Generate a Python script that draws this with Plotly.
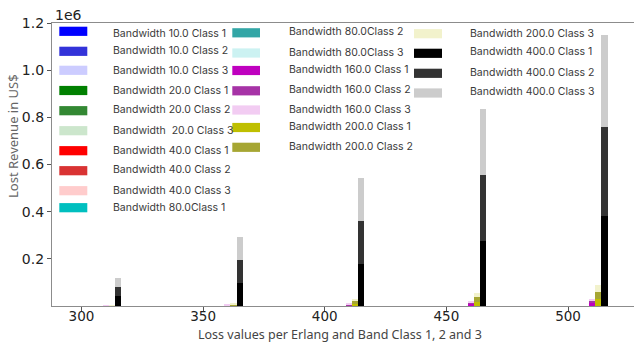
import plotly.graph_objects as go

# Erlang load points on the x axis and bandwidth groups
erlang = [300, 350, 400, 450, 500]
bandwidths = [10.0, 20.0, 40.0, 80.0, 160.0, 200.0, 400.0]

# Lost revenue (US$) per bandwidth and class, one value per Erlang point
loss_10_c1 = [0, 0, 0, 0, 0]
loss_10_c2 = [0, 0, 0, 0, 0]
loss_10_c3 = [0, 0, 0, 0, 0]
loss_20_c1 = [0, 0, 0, 0, 0]
loss_20_c2 = [0, 0, 0, 0, 0]
loss_20_c3 = [0, 0, 0, 0, 0]
loss_40_c1 = [0, 0, 0, 0, 0]
loss_40_c2 = [0, 0, 0, 0, 0]
loss_40_c3 = [0, 0, 0, 0, 0]
loss_80_c1 = [0, 0, 0, 0, 0]
loss_80_c2 = [0, 0, 0, 0, 0]
loss_80_c3 = [0, 0, 0, 0, 0]
loss_160_c1 = [500, 2000, 4000, 9000, 13000]
loss_160_c2 = [500, 1500, 3500, 5000, 11000]
loss_160_c3 = [500, 1500, 3000, 4000, 6000]
loss_200_c1 = [1100, 3000, 10000, 19000, 31000]
loss_200_c2 = [1100, 3000, 10000, 18000, 28000]
loss_200_c3 = [1200, 3000, 10000, 19000, 30000]
loss_400_c1 = [41000, 99000, 180000, 277000, 380000]
loss_400_c2 = [40000, 96000, 182000, 279000, 378000]
loss_400_c3 = [38000, 97000, 181000, 279000, 391000]

series = [
    (10.0, 1, loss_10_c1), (10.0, 2, loss_10_c2), (10.0, 3, loss_10_c3),
    (20.0, 1, loss_20_c1), (20.0, 2, loss_20_c2), (20.0, 3, loss_20_c3),
    (40.0, 1, loss_40_c1), (40.0, 2, loss_40_c2), (40.0, 3, loss_40_c3),
    (80.0, 1, loss_80_c1), (80.0, 2, loss_80_c2), (80.0, 3, loss_80_c3),
    (160.0, 1, loss_160_c1), (160.0, 2, loss_160_c2), (160.0, 3, loss_160_c3),
    (200.0, 1, loss_200_c1), (200.0, 2, loss_200_c2), (200.0, 3, loss_200_c3),
    (400.0, 1, loss_400_c1), (400.0, 2, loss_400_c2), (400.0, 3, loss_400_c3),
]

# Axis ticks
x_tick_vals = [300, 350, 400, 450, 500]
x_tick_text = ["300", "350", "400", "450", "500"]
y_tick_vals = [200000, 400000, 600000, 800000, 1000000, 1200000]
y_tick_text = ["0.2", "0.4", "0.6", "0.8", "1.0", "1.2"]

# Styling
colors = {
    (10.0, 1): "#0000ff", (10.0, 2): "#3333d9", (10.0, 3): "#ccccff",
    (20.0, 1): "#008000", (20.0, 2): "#338833", (20.0, 3): "#cce6cc",
    (40.0, 1): "#ff0000", (40.0, 2): "#d93333", (40.0, 3): "#ffcccc",
    (80.0, 1): "#00bfbf", (80.0, 2): "#33a6a6", (80.0, 3): "#ccf2f2",
    (160.0, 1): "#bf00bf", (160.0, 2): "#a633a6", (160.0, 3): "#f2ccf2",
    (200.0, 1): "#bfbf00", (200.0, 2): "#a6a633", (200.0, 3): "#f2f2cc",
    (400.0, 1): "#000000", (400.0, 2): "#333333", (400.0, 3): "#cccccc",
}
BAR_W = 2.5
W, H = 634, 342
ML, MR, MT, MB = 52, 0, 23, 36
PW, PH = W - ML - MR, H - MT - MB

fig = go.Figure()
for bw, cls, vals in series:
    i = bandwidths.index(bw)
    fig.add_trace(go.Bar(
        x=[e + i * BAR_W for e in erlang],
        y=vals,
        width=BAR_W,
        name=f"Bandwidth {bw} Class {cls}",
        marker=dict(color=colors[(bw, cls)], line=dict(width=0)),
        showlegend=False,
    ))


def px(xp):
    return (xp - ML) / PW


def py(yp):
    return (H - MB - yp) / PH


# Hand-placed legend: three columns of patches and labels
legend_cols = [
    dict(patch=(59.3, 87.3), text_x=110.5, items=[
        ((10.0, 1), "Bandwidth 10.0 Class 1", 31.3, 33.0),
        ((10.0, 2), "Bandwidth 10.0 Class 2", 51.3, 50.7),
        ((10.0, 3), "Bandwidth 10.0 Class 3", 70.3, 70.7),
        ((20.0, 1), "Bandwidth 20.0 Class 1", 90.5, 90.7),
        ((20.0, 2), "Bandwidth 20.0 Class 2", 110.7, 110.0),
        ((20.0, 3), "Bandwidth  20.0 Class 3", 130.7, 130.0),
        ((40.0, 1), "Bandwidth 40.0 Class 1", 150.7, 150.7),
        ((40.0, 2), "Bandwidth 40.0 Class 2", 170.7, 169.3),
        ((40.0, 3), "Bandwidth 40.0 Class 3", 190.7, 190.0),
        ((80.0, 1), "Bandwidth 80.0Class 1", 207.7, 207.3),
    ]),
    dict(patch=(232.3, 260.0), text_x=286.5, items=[
        ((80.0, 2), "Bandwidth 80.0Class 2", 32.8, 31.7),
        ((80.0, 3), "Bandwidth 80.0Class 3", 53.0, 52.3),
        ((160.0, 1), "Bandwidth 160.0 Class 1", 70.5, 70.0),
        ((160.0, 2), "Bandwidth 160.0 Class 2", 90.8, 89.3),
        ((160.0, 3), "Bandwidth 160.0 Class 3", 110.0, 109.3),
        ((200.0, 1), "Bandwidth 200.0 Class 1", 127.5, 127.0),
        ((200.0, 2), "Bandwidth 200.0 Class 2", 147.3, 146.0),
    ]),
    dict(patch=(414.0, 442.0), text_x=468.0, items=[
        ((200.0, 3), "Bandwidth 200.0 Class 3", 33.7, 33.0),
        ((400.0, 1), "Bandwidth 400.0 Class 1", 53.3, 52.0),
        ((400.0, 2), "Bandwidth 400.0 Class 2", 73.3, 72.0),
        ((400.0, 3), "Bandwidth 400.0 Class 3", 93.0, 92.0),
    ]),
]

shapes = []
annotations = []
for col in legend_cols:
    x0, x1 = col["patch"]
    for key, label, patch_y, text_y in col["items"]:
        shapes.append(dict(
            type="rect", xref="paper", yref="paper",
            x0=px(x0), x1=px(x1), y0=py(patch_y + 4.6), y1=py(patch_y - 4.6),
            fillcolor=colors[key], line=dict(width=0), layer="above",
        ))
        annotations.append(dict(
            text=label, xref="paper", yref="paper",
            x=px(col["text_x"]), y=py(text_y), xanchor="left", yanchor="middle",
            showarrow=False, font=dict(family="Inter", size=10.5, color="#3a3a3a"),
        ))

# Offset text for the y axis scale
annotations.append(dict(
    text="1e6", xref="paper", yref="paper", x=px(53), y=py(15),
    xanchor="left", yanchor="middle", showarrow=False,
    font=dict(family="DejaVu Sans", size=14, color="#222222"),
))

# Axis titles
annotations.append(dict(
    text="Loss values per Erlang and Band Class 1, 2 and 3",
    xref="paper", yref="paper", x=px(340), y=py(334),
    xanchor="center", yanchor="middle", showarrow=False,
    font=dict(family="Noto Sans", size=12.5, color="#444444"),
))
annotations.append(dict(
    text="Lost Revenue in US$",
    xref="paper", yref="paper", x=px(13), y=py(136), textangle=-90,
    xanchor="center", yanchor="middle", showarrow=False,
    font=dict(family="Noto Sans", size=13, color="#666666"),
))

axis_line = "#8c8c8c"
fig.update_layout(
    width=W, height=H,
    margin=dict(l=ML, r=MR, t=MT, b=MB, pad=0),
    plot_bgcolor="white", paper_bgcolor="white",
    barmode="stack", bargap=0,
    shapes=shapes, annotations=annotations,
    font=dict(family="DejaVu Sans", color="#222222"),
    xaxis=dict(
        range=[287.875, 527.125], tickvals=x_tick_vals, ticktext=x_tick_text,
        showgrid=False, zeroline=False, showline=True, linecolor=axis_line,
        linewidth=1.3, mirror=True, ticks="outside", ticklen=4, tickwidth=1,
        tickcolor="#555555", tickfont=dict(size=13.5, color="#222222"),
        ticklabelstandoff=-6,
    ),
    yaxis=dict(
        range=[0, 1200000], tickvals=y_tick_vals, ticktext=y_tick_text,
        showgrid=False, zeroline=False, showline=True, linecolor=axis_line,
        linewidth=1.3, ticks="outside", ticklen=4, tickwidth=1,
        tickcolor="#555555", tickfont=dict(size=14, color="#222222"),
    ),
)

fig.write_html("out.html")
